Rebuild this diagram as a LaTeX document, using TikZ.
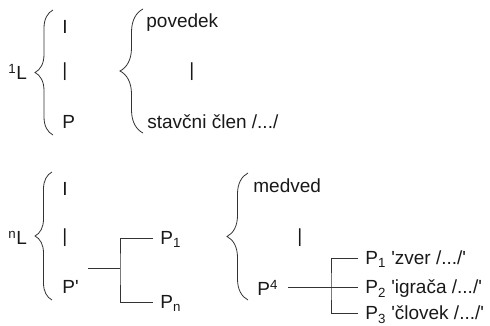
\documentclass[tikz,border=0pt]{standalone}
\usepackage{fontspec}
\setmainfont{Liberation Sans}
\usetikzlibrary{decorations.pathreplacing}

\newcommand{\apos}{\textquotesingle}

\begin{document}
\begin{tikzpicture}[x=1pt,y=-1pt,line width=0.8pt,draw=black!80,
        font=\fontsize{19}{21}\selectfont,text=black!90,
        word/.style={inner sep=0pt,text height=13.6pt,text depth=0pt,anchor=west},
        leaf/.style={word,inner xsep=7pt},
        curly/.style={decorate,decoration={brace,amplitude=#1}}]
            \useasboundingbox (0, 0) rectangle (490, 326);

            % upper scheme
            \node (L1)[word] at (8, 72.5) {\textsuperscript{1}L};
            \draw [curly=18pt] (53, 135) -- (53, 10);
            \node (I1)[word] at (62, 26.5) {I};
            \node (bar1)[word] at (62, 70) {|};
            \node (P1)[word] at (62, 121.5) {P};

            \draw [curly=23pt] (143, 133) -- (143, 9);
            \node (povedek)[word] at (146, 20.5) {povedek};
            \node (bar2)[word] at (189, 70) {|};
            \node (clen)[word] at (147, 121.5) {stavčni člen /.../};

            % lower scheme
            \node (Ln)[word] at (8, 237.5) {\textsuperscript{n}L};
            \draw [curly=17pt] (52, 300) -- (52, 172);
            \node (I2)[word] at (62, 188.5) {I};
            \node (bar3)[word] at (62, 236) {|};
            \node (Pp)[word] at (62, 286.5) {P\apos};

            \coordinate (stem1) at (88, 268);
            \coordinate (fork1) at (120, 268);
            \node (Pone)[leaf] at (153, 238) {P\textsubscript{1}};
            \node (Pn)[leaf] at (153, 302) {P\textsubscript{n}};
            \draw (stem1) -- (fork1);
            \draw (Pone.west) -| (fork1) |- (Pn.west);

            \draw [curly=21pt] (248, 300) -- (248, 173);
            \node (medved)[word] at (253, 185.5) {medved};
            \node (bar4)[word] at (297, 236) {|};
            \node (P4)[word] at (257, 289) {P\textsuperscript{4}};

            \coordinate (stem2) at (288, 287);
            \coordinate (fork2) at (331, 287);
            \node (zver)[leaf] at (358, 258)
                {P\textsubscript{1} \apos zver /.../\apos};
            \node (igraca)[leaf] at (358, 287)
                {P\textsubscript{2} \apos igrača /.../\apos};
            \node (clovek)[leaf] at (358, 313)
                {P\textsubscript{3} \apos človek /.../\apos};
            \draw (stem2) -- (igraca.west);
            \draw (zver.west) -| (fork2) |- (clovek.west);
\end{tikzpicture}
\end{document}
